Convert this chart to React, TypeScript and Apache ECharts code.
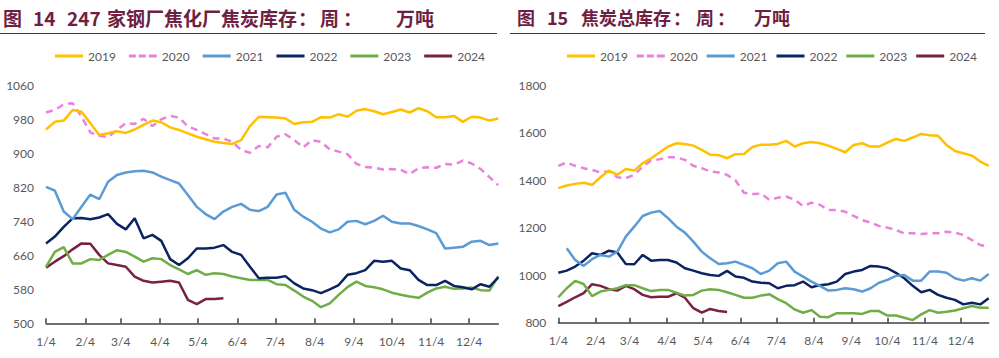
import React, { useEffect, useRef } from "react";
import * as echarts from "echarts";

const years = ["2019", "2020", "2021", "2022", "2023", "2024"];
const yearColors = ["#FFC000", "#E882DC", "#5B9BD5", "#0B2461", "#70AD47", "#7A1F45"];
const monthLabels = ["1/4", "2/4", "3/4", "4/4", "5/4", "6/4", "7/4", "8/4", "9/4", "10/4", "11/4", "12/4"];
const monthDays = [0, 31, 59, 90, 120, 151, 181, 212, 243, 273, 304, 334];
const daysPerWeek = 7;

// Figure 14: 247 steel mills coking plants coke stock (weekly, 10k t)
const steel2019 = [956, 974, 977, 1002, 998, 971, 943, 947, 952, 948, 956, 967, 977, 973, 961, 955, 947, 939, 933, 927, 924, 922, 931, 964, 986, 985, 984, 982, 969, 973, 974, 985, 984, 992, 986, 1000, 1004, 999, 992, 997, 1003, 996, 1006, 999, 985, 985, 988, 974, 986, 984, 977, 982];
const steel2020 = [996, 1002, 1015, 1018, 986, 949, 941, 938, 955, 971, 969, 981, 964, 980, 988, 984, 963, 955, 945, 935, 935, 927, 908, 901, 917, 914, 939, 945, 931, 914, 931, 927, 909, 904, 898, 875, 868, 866, 862, 863, 861, 851, 865, 867, 866, 875, 873, 883, 876, 863, 844, 825];
const steel2021 = [821, 812, 763, 745, 774, 803, 792, 833, 849, 855, 858, 859, 855, 845, 837, 829, 802, 774, 757, 745, 763, 774, 781, 767, 764, 774, 803, 807, 767, 751, 739, 723, 714, 721, 739, 741, 733, 741, 753, 739, 735, 735, 729, 721, 712, 676, 678, 680, 692, 694, 684, 688];
const steel2022 = [688, 704, 727, 747, 748, 745, 749, 757, 734, 721, 747, 700, 708, 694, 651, 637, 653, 676, 676, 678, 684, 668, 661, 633, 606, 607, 607, 611, 594, 582, 578, 571, 580, 590, 614, 618, 625, 647, 645, 647, 629, 625, 602, 590, 590, 600, 588, 585, 580, 592, 586, 608];
const steel2023 = [633, 668, 679, 641, 641, 651, 649, 661, 672, 668, 657, 645, 653, 651, 637, 627, 616, 625, 614, 618, 616, 610, 606, 602, 602, 602, 592, 590, 577, 563, 553, 538, 547, 567, 585, 598, 588, 585, 580, 572, 567, 563, 560, 572, 582, 586, 581, 582, 584, 578, 577, 611];
const steel2024 = [631, 645, 658, 674, 688, 687, 661, 641, 637, 633, 610, 600, 596, 598, 600, 596, 555, 545, 557, 557, 559];

// Figure 15: total coke stock (weekly, 10k t)
const total2019 = [1366, 1377, 1384, 1389, 1380, 1412, 1440, 1422, 1447, 1440, 1471, 1492, 1516, 1541, 1555, 1552, 1545, 1527, 1507, 1505, 1492, 1509, 1510, 1539, 1549, 1549, 1552, 1565, 1541, 1555, 1560, 1555, 1545, 1531, 1517, 1548, 1555, 1541, 1541, 1558, 1573, 1565, 1579, 1594, 1589, 1586, 1548, 1522, 1513, 1503, 1478, 1460];
const total2020 = [1460, 1474, 1460, 1450, 1443, 1432, 1436, 1412, 1408, 1422, 1457, 1482, 1488, 1496, 1496, 1485, 1460, 1450, 1436, 1432, 1422, 1398, 1347, 1341, 1343, 1317, 1326, 1331, 1317, 1291, 1305, 1296, 1274, 1274, 1267, 1249, 1232, 1221, 1207, 1200, 1190, 1176, 1176, 1173, 1176, 1176, 1183, 1179, 1169, 1148, 1127, 1120];
const total2021 = [null, 1113, 1064, 1039, 1067, 1085, 1078, 1099, 1162, 1204, 1249, 1263, 1270, 1240, 1204, 1179, 1141, 1099, 1071, 1047, 1050, 1057, 1043, 1029, 1005, 1019, 1050, 1057, 1015, 994, 973, 955, 935, 938, 945, 941, 931, 945, 968, 980, 997, 1001, 977, 977, 1015, 1015, 1010, 987, 977, 987, 977, 1005];
const total2022 = [1010, 1019, 1036, 1061, 1092, 1085, 1103, 1095, 1047, 1046, 1085, 1061, 1064, 1064, 1053, 1029, 1019, 1008, 1001, 997, 1018, 994, 989, 973, 968, 966, 945, 955, 958, 973, 949, 958, 962, 973, 1005, 1015, 1022, 1039, 1036, 1029, 1010, 987, 955, 928, 938, 917, 905, 896, 877, 884, 877, 903];
const total2023 = [907, 945, 976, 963, 912, 931, 938, 945, 958, 958, 945, 933, 938, 938, 926, 914, 917, 935, 941, 938, 928, 917, 905, 905, 914, 920, 899, 882, 856, 842, 853, 825, 823, 840, 840, 840, 837, 849, 849, 830, 830, 821, 811, 835, 853, 842, 846, 851, 861, 870, 863, 863];
const total2024 = [870, 888, 907, 924, 962, 955, 941, 935, 955, 941, 917, 907, 909, 909, 924, 905, 861, 842, 858, 849, 845];

const steelSeries = [steel2019, steel2020, steel2021, steel2022, steel2023, steel2024];
const totalSeries = [total2019, total2020, total2021, total2022, total2023, total2024];

const TITLE_COLOR = "#6E1F42";
const LABEL_COLOR = "#595959";
const FONT = "Lato, 'Liberation Sans', sans-serif";
const CJK = "'Noto Sans CJK SC', sans-serif";
const DASH_ICON = "path://M0,0h7v3h-7z M10,0h7v3h-7z M20,0h8v3h-8z";

function toPoints(arr: (number | null)[]) {
  return arr.map((v, i) => [i * daysPerWeek, v]);
}

function buildSeries(sets: (number | null)[][], idx: number) {
  return sets.map((arr, k) => ({
    name: years[k],
    type: "line",
    xAxisIndex: idx,
    yAxisIndex: idx,
    symbol: "none",
    showSymbol: false,
    connectNulls: false,
    data: toPoints(arr),
    itemStyle: { color: yearColors[k] },
    lineStyle: {
      color: yearColors[k],
      width: 2.5,
      type: years[k] === "2020" ? [7, 5] : "solid",
    },
    z: 10 - k,
  }));
}

function xAxisCfg(idx: number) {
  return {
    type: "value",
    gridIndex: idx,
    min: 0,
    max: 357,
    axisLine: { show: true, lineStyle: { color: "#404040", width: 1.5 } },
    axisTick: {
      show: true,
      inside: true,
      length: 5,
      customValues: monthDays,
      lineStyle: { color: "#404040", width: 1.5 },
    },
    axisLabel: {
      customValues: monthDays,
      formatter: (v: number) => monthLabels[monthDays.indexOf(Math.round(v))] ?? "",
      color: LABEL_COLOR,
      fontFamily: FONT,
      fontSize: 12,
      margin: 12,
    },
    splitLine: { show: false },
  };
}

function yAxisCfg(idx: number, min: number, max: number, interval: number) {
  return {
    type: "value",
    gridIndex: idx,
    min,
    max,
    interval,
    axisLine: { show: false },
    axisTick: { show: false },
    splitLine: { show: false },
    axisLabel: {
      color: LABEL_COLOR,
      fontFamily: FONT,
      fontSize: 12,
      margin: 12,
      formatter: (v: number) => String(v),
    },
  };
}

function titleText(text: string, x: number, size: number) {
  return {
    type: "text",
    x,
    y: 17,
    style: {
      text,
      fill: TITLE_COLOR,
      font: `bold ${size}px ${CJK}`,
      textVerticalAlign: "middle",
      textAlign: "left",
    },
  };
}

export default function App() {
  const ref = useRef<HTMLDivElement>(null);
  useEffect(() => {
    if (!ref.current) return;
    const chart = echarts.init(ref.current, undefined, { renderer: "svg" });
    const legendData = years.map((y, k) => ({
      name: y,
      icon: y === "2020" ? DASH_ICON : "rect",
      itemStyle: { color: yearColors[k] },
    }));
    const legendBase = {
      data: legendData,
      top: 50,
      itemWidth: 28,
      itemHeight: 3,
      padding: 0,
      textStyle: { color: LABEL_COLOR, fontFamily: FONT, fontSize: 12 },
      selectedMode: false,
    };
    chart.setOption({
      animation: false,
      backgroundColor: "#ffffff",
      grid: [
        { left: 46, right: 500.7, top: 85.3, bottom: 34.7, containLabel: false },
        { left: 558.3, right: 10.3, top: 85, bottom: 35.3, containLabel: false },
      ],
      legend: [
        { ...legendBase, left: 55, itemGap: 13 },
        { ...legendBase, left: 567, itemGap: 9 },
      ],
      xAxis: [xAxisCfg(0), xAxisCfg(1)],
      yAxis: [yAxisCfg(0, 500, 1060, 80), yAxisCfg(1, 800, 1800, 200)],
      series: [...buildSeries(steelSeries, 0), ...buildSeries(totalSeries, 1)],
      graphic: [
        titleText("图", 3, 19),
        titleText("14", 33, 19),
        titleText("247", 67, 19),
        titleText("家钢厂焦化厂焦炭库存", 107, 19),
        titleText("：", 298, 19),
        titleText("周", 320, 19),
        titleText("：", 343, 19),
        titleText("万吨", 396, 19),
        titleText("图", 517, 18),
        titleText("15", 547, 18),
        titleText("焦炭总库存", 581, 18),
        titleText("：", 673, 18),
        titleText("周", 696, 18),
        titleText("：", 717, 18),
        titleText("万吨", 754, 18),
        { type: "line", shape: { x1: 0, y1: 33.5, x2: 497, y2: 33.5 }, style: { stroke: TITLE_COLOR, lineWidth: 1 } },
        { type: "line", shape: { x1: 510, y1: 33.5, x2: 985, y2: 33.5 }, style: { stroke: TITLE_COLOR, lineWidth: 1 } },
      ],
    });
    return () => chart.dispose();
  }, []);
  return (
    <div
      ref={ref}
      style={{ position: "absolute", left: 0, top: 0, width: 999, height: 358, background: "#fff" }}
    />
  );
}
